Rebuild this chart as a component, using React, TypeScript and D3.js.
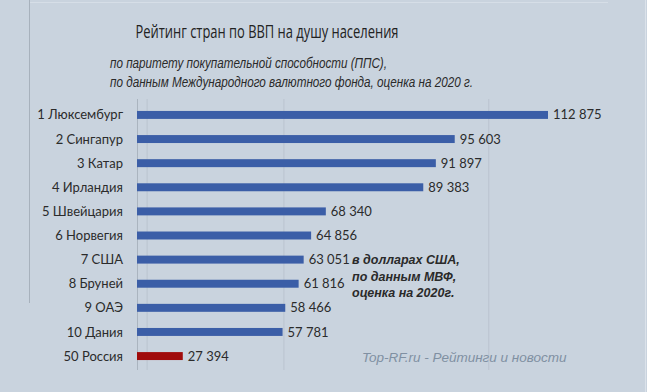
import * as d3 from "d3";
import { useEffect, useRef } from "react";

const countries = [
  "1 Люксембург",
  "2 Сингапур",
  "3 Катар",
  "4 Ирландия",
  "5 Швейцария",
  "6 Норвегия",
  "7 США",
  "8 Бруней",
  "9 ОАЭ",
  "10 Дания",
  "50 Россия",
];
const gdpValues = [112875, 95603, 91897, 89383, 68340, 64856, 63051, 61816, 58466, 57781, 27394];
const highlighted = ["50 Россия"];
const gridValues = [10000, 58000, 102000];

const title = "Рейтинг стран по ВВП на душу населения";
const subtitleLines = [
  "по паритету покупательной способности (ППС),",
  "по данным Международного валютного фонда, оценка на 2020 г.",
];
const noteLines = ["в долларах США,", "по данным МВФ,", "оценка на 2020г."];
const watermark = "Top-RF.ru - Рейтинги и новости";

const width = 647;
const height = 392;
const subtitleWidths = [277, 363];

export default function App() {
  const ref = useRef<SVGSVGElement>(null);

  useEffect(() => {
    const svg = d3.select(ref.current);
    svg.selectAll("*").remove();

    const margin = { left: 137, right: 99, top: 103, bottom: 24 };

    // the source picture stretches the long bars, a pow scale follows it best
    const x = d3
      .scalePow()
      .exponent(1.55)
      .domain([0, d3.max(gdpValues)])
      .range([margin.left, width - margin.right]);

    const y = d3
      .scaleBand()
      .domain(countries)
      .range([margin.top, height - margin.bottom])
      .paddingInner(0.67)
      .paddingOuter(0.33);

    const data = countries.map((c, i) => ({ country: c, value: gdpValues[i] }));

    svg.append("rect").attr("width", width).attr("height", height).attr("fill", "#c9d3de");

    // frame of the original slide
    svg
      .append("line")
      .attr("x1", 29.5).attr("x2", 29.5).attr("y1", 0).attr("y2", 303)
      .attr("stroke", "#a7b1bc").attr("stroke-width", 1);
    svg
      .append("line")
      .attr("x1", 30).attr("x2", 608).attr("y1", 2.5).attr("y2", 2.5)
      .attr("stroke", "#d6dee7").attr("stroke-width", 1);
    svg
      .append("line")
      .attr("x1", 645.5).attr("x2", 645.5).attr("y1", 0).attr("y2", height)
      .attr("stroke", "#dbe2ea").attr("stroke-width", 1);

    svg
      .append("text")
      .attr("x", 267)
      .attr("y", 38)
      .attr("text-anchor", "middle")
      .attr("font-family", "'Open Sans', sans-serif")
      .attr("font-size", 18)
      .attr("fill", "#222")
      .attr("textLength", 263)
      .attr("lengthAdjust", "spacingAndGlyphs")
      .text(title);

    svg
      .selectAll(".sub")
      .data(subtitleLines)
      .join("text")
      .attr("class", "sub")
      .attr("x", 110)
      .attr("y", (_, i) => 68 + i * 19)
      .attr("font-family", "'Liberation Sans', Arial, sans-serif")
      .attr("font-style", "italic")
      .attr("font-size", 14)
      .attr("fill", "#2a2a2a")
      .attr("textLength", (_, i) => subtitleWidths[i])
      .attr("lengthAdjust", "spacingAndGlyphs")
      .text((d) => d);

    const grid = svg.append("g");
    grid
      .selectAll("line")
      .data(gridValues)
      .join("line")
      .attr("x1", (d) => x(d) + 0.5)
      .attr("x2", (d) => x(d) + 0.5)
      .attr("y1", margin.top - 4)
      .attr("y2", height - margin.bottom + 2)
      .attr("stroke", "#bac4cf")
      .attr("stroke-width", 1);

    svg
      .append("line")
      .attr("x1", margin.left + 0.5)
      .attr("x2", margin.left + 0.5)
      .attr("y1", margin.top - 4)
      .attr("y2", height - margin.bottom + 2)
      .attr("stroke", "#aab4bf");

    svg
      .selectAll(".bar")
      .data(data)
      .join("rect")
      .attr("class", "bar")
      .attr("x", margin.left)
      .attr("y", (d) => y(d.country))
      .attr("width", (d) => x(d.value) - margin.left)
      .attr("height", y.bandwidth())
      .attr("fill", (d) => (highlighted.includes(d.country) ? "#a00b0b" : "#3b5ea7"));

    svg
      .selectAll(".cat")
      .data(data)
      .join("text")
      .attr("class", "cat")
      .attr("x", 123)
      .attr("y", (d) => y(d.country) + y.bandwidth() / 2)
      .attr("dy", "0.35em")
      .attr("text-anchor", "end")
      .attr("font-family", "Lato, sans-serif")
      .attr("font-size", 13)
      .attr("fill", "#2b2b2b")
      .text((d) => d.country);

    const fmt = (v) => d3.format(",")(v).replace(",", " ");

    svg
      .selectAll(".val")
      .data(data)
      .join("text")
      .attr("class", "val")
      .attr("x", (d) => x(d.value) + 5)
      .attr("y", (d) => y(d.country) + y.bandwidth() / 2)
      .attr("dy", "0.35em")
      .attr("font-family", "Lato, sans-serif")
      .attr("font-size", 13)
      .attr("fill", "#2b2b2b")
      .text((d) => fmt(d.value));

    svg
      .selectAll(".note")
      .data(noteLines)
      .join("text")
      .attr("class", "note")
      .attr("x", 352)
      .attr("y", (_, i) => 264 + i * 16.5)
      .attr("font-family", "'Liberation Sans', Arial, sans-serif")
      .attr("font-style", "italic")
      .attr("font-weight", "bold")
      .attr("font-size", 12.5)
      .attr("fill", "#2a2a2a")
      .text((d) => d);

    svg
      .append("text")
      .attr("x", 362)
      .attr("y", 362)
      .attr("font-family", "'Liberation Sans', Arial, sans-serif")
      .attr("font-style", "italic")
      .attr("font-size", 13.5)
      .attr("fill", "#8090a2")
      .text(watermark);
  }, []);

  return (
    <svg
      ref={ref}
      width={width}
      height={height}
      style={{ position: "absolute", left: 0, top: 0, display: "block" }}
    />
  );
}
